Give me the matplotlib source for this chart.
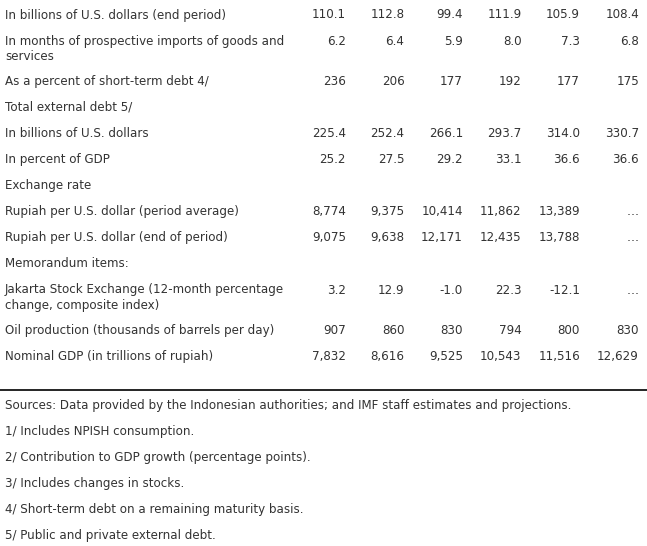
import matplotlib.pyplot as plt

# table content
labels = [
    'In billions of U.S. dollars (end period)',
    'In months of prospective imports of goods and\nservices',
    'As a percent of short-term debt 4/',
    'Total external debt 5/',
    'In billions of U.S. dollars',
    'In percent of GDP',
    'Exchange rate',
    'Rupiah per U.S. dollar (period average)',
    'Rupiah per U.S. dollar (end of period)',
    'Memorandum items:',
    'Jakarta Stock Exchange (12-month percentage\nchange, composite index)',
    'Oil production (thousands of barrels per day)',
    'Nominal GDP (in trillions of rupiah)',
]
values = [
    ['110.1', '112.8', '99.4', '111.9', '105.9', '108.4'],
    ['6.2', '6.4', '5.9', '8.0', '7.3', '6.8'],
    ['236', '206', '177', '192', '177', '175'],
    [],
    ['225.4', '252.4', '266.1', '293.7', '314.0', '330.7'],
    ['25.2', '27.5', '29.2', '33.1', '36.6', '36.6'],
    [],
    ['8,774', '9,375', '10,414', '11,862', '13,389', '\u2026'],
    ['9,075', '9,638', '12,171', '12,435', '13,788', '\u2026'],
    [],
    ['3.2', '12.9', '-1.0', '22.3', '-12.1', '\u2026'],
    ['907', '860', '830', '794', '800', '830'],
    ['7,832', '8,616', '9,525', '10,543', '11,516', '12,629'],
]
notes = [
    'Sources: Data provided by the Indonesian authorities; and IMF staff estimates and projections.',
    '1/ Includes NPISH consumption.',
    '2/ Contribution to GDP growth (percentage points).',
    '3/ Includes changes in stocks.',
    '4/ Short-term debt on a remaining maturity basis.',
    '5/ Public and private external debt.',
]

col_right = [346, 404.5, 463, 521.5, 580, 639]
text_color = '#333333'
fs = 8.6

fig = plt.figure(figsize=(6.47, 5.46), dpi=100)
ax = fig.add_axes([0, 0, 1, 1])
ax.set_xlim(0, 647)
ax.set_ylim(546, 0)
ax.axis('off')

y = 8.5
for label, vals in zip(labels, values):
    nlines = label.count('\n') + 1
    ax.text(5, y, label, ha='left', va='top', color=text_color, fontsize=fs,
            linespacing=1.2)
    for x, v in zip(col_right, vals):
        ax.text(x, y, v, ha='right', va='top', color=text_color, fontsize=fs)
    y += 26.1 + 14 * (nlines - 1)

ax.plot([0, 647], [390, 390], color='black', lw=1.2)

y = 399.5
for n in notes:
    ax.text(5, y, n, ha='left', va='top', color=text_color, fontsize=fs)
    y += 26

fig.savefig('out.png', dpi=100)
